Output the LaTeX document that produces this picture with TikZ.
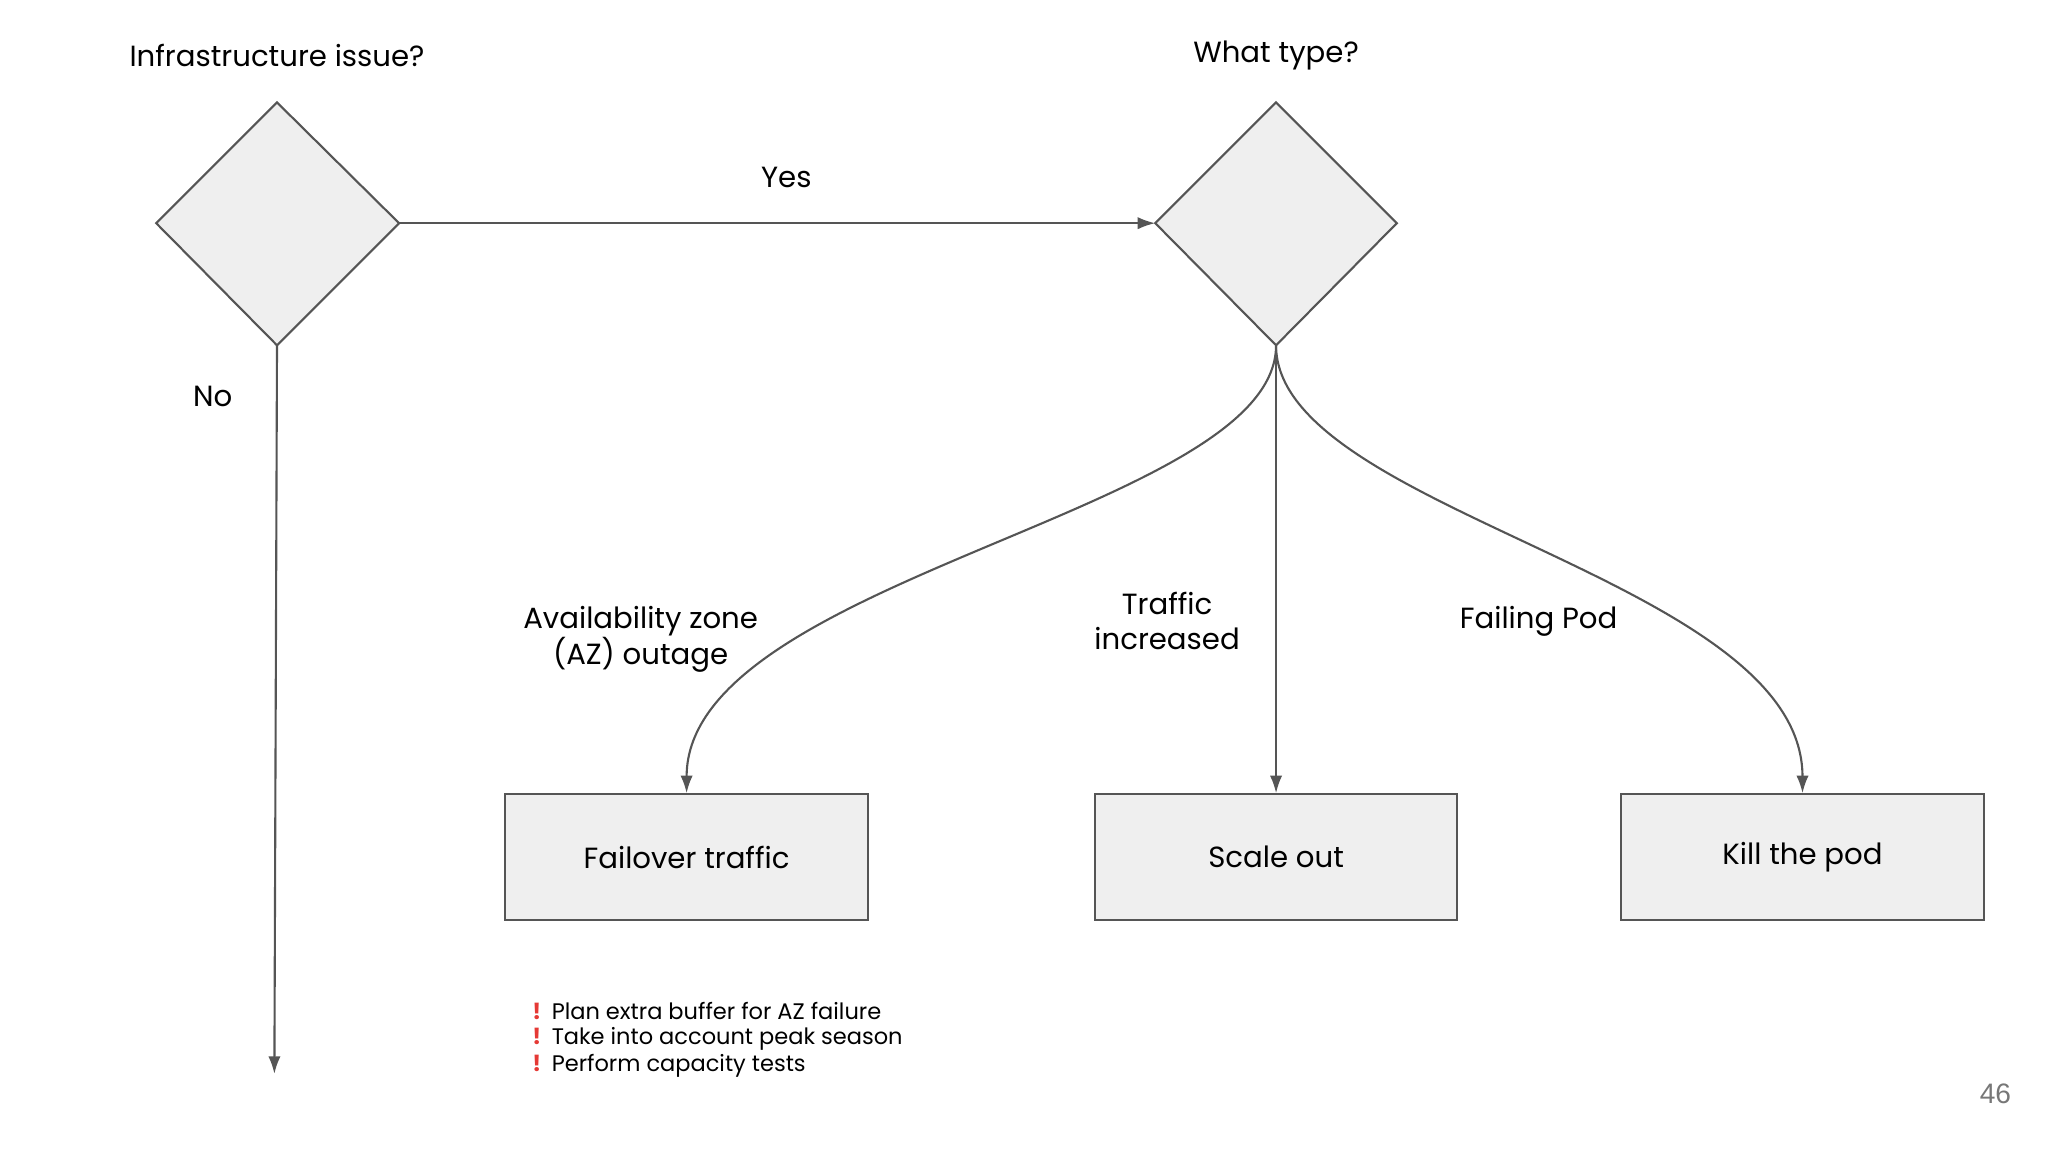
\documentclass[tikz,border=0pt]{standalone}
\usepackage{fontspec}
\setmainfont{Poppins}
\newfontfamily\arialf{Liberation Sans}
\usetikzlibrary{arrows.meta}
\definecolor{lc}{HTML}{555555}
\definecolor{fc}{HTML}{EFEFEF}
\definecolor{rc}{HTML}{E53935}
\tikzset{
 dia/.style={draw=lc,fill=fc,line width=0.6pt,minimum size=0.28pt},
 boxn/.style={draw=lc,fill=fc,line width=0.6pt,minimum width=276*0.013128cm,minimum height=96*0.013128cm,font=\fontsize{8.3}{10}\selectfont,inner sep=0pt},
 lbl/.style={font=\fontsize{8.3}{10.2}\selectfont,align=center,inner sep=0pt},
 con/.style={draw=lc,line width=0.6pt,-{Latex[length=5pt,width=3.5pt]}},
 bul/.style={font=\fontsize{6.4}{7.9}\selectfont,anchor=west,inner sep=0pt}
}
\begin{document}
\begin{tikzpicture}[x=0.013128cm,y=-0.013128cm]
\useasboundingbox (0,0) rectangle (1560,877.5);
\draw[draw=lc,fill=fc,line width=0.6pt] (119,170) -- (211,78) -- (304,170) -- (211,263) -- cycle;
\draw[draw=lc,fill=fc,line width=0.6pt] (880,170) -- (972,78) -- (1064,170) -- (972,263) -- cycle;
\coordinate (d1r) at (304,170); \coordinate (d1b) at (211,263);
\coordinate (d2l) at (880,170); \coordinate (d2b) at (972,263);
\coordinate (noend) at (209,818);
\node[lbl] (t1) at (211,42) {Infrastructure issue?};
\node[lbl] (t2) at (972,42) {What type?};
\node[lbl] (yes) at (599,135) {Yes};
\node[lbl] (no) at (162,302) {No};
\node[boxn] (b1) at (523,653) {Failover traffic};
\node[boxn] (b2) at (972,653) {Scale out};
\node[boxn] (b3) at (1373,653) {Kill the pod};
\draw[con] (d1r) -- (d2l);
\draw[con] (d1b) -- (noend);
\draw[con] (d2b) .. controls (972,390) and (523,440) .. (b1.north);
\draw[con] (d2b) -- (b2.north);
\draw[con] (d2b) .. controls (972,390) and (1373,440) .. (b3.north);
\node[lbl] (l1) at (488,487) {Availability zone\\(AZ) outage};
\node[lbl] (l2) at (889,473) {Traffic\\increased};
\node[lbl] (l3) at (1172,473) {Failing Pod};
\node[bul] (e1) at (405,770) {\textcolor{rc}{\textbf{!}}\hspace{3pt}Plan extra buffer for AZ failure};
\node[bul] (e2) at (405,791) {\textcolor{rc}{\textbf{!}}\hspace{3pt}Take into account peak season};
\node[bul] (e3) at (405,812) {\textcolor{rc}{\textbf{!}}\hspace{3pt}Perform capacity tests};
\node[font=\arialf\fontsize{8}{10}\selectfont,text=lc!80,inner sep=0pt] (pg) at (1520,833) {46};
\end{tikzpicture}
\end{document}
